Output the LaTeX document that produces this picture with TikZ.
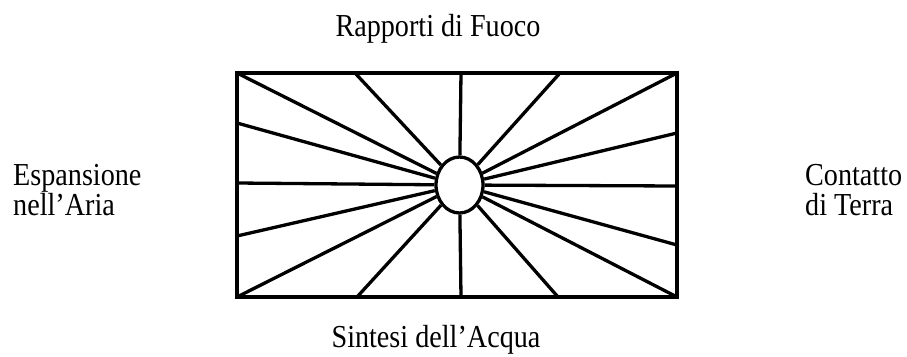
\documentclass[tikz,border=0pt]{standalone}
\usepackage{graphicx}
\usepackage{fontspec}
\setmainfont{Liberation Serif}
\usetikzlibrary{shapes.geometric}
\newcommand{\sqz}[1]{\scalebox{0.88}[1]{#1}}
\begin{document}
\begin{tikzpicture}[x=1pt,y=-1pt,
  ray/.style={line width=3.3pt},
  frame/.style={line width=4pt, line join=miter},
  lbl/.style={inner sep=0pt, font=\fontsize{32}{26}\selectfont}]
\useasboundingbox (0,0) rectangle (907,356);
% sun
\node[ellipse, draw, line width=3.3pt, fill=white, minimum width=47pt, minimum height=56pt, inner sep=0pt] (sun) at (459.5,185) {};
% border points
\coordinate (l1) at (237,73);
\coordinate (l2) at (237,123);
\coordinate (l3) at (237,183);
\coordinate (l4) at (237,236);
\coordinate (l5) at (237,297);
\coordinate (t1) at (355,73);
\coordinate (t2) at (461,73);
\coordinate (t3) at (560,73);
\coordinate (r1) at (677,73);
\coordinate (r2) at (677,133);
\coordinate (r3) at (677,186);
\coordinate (r4) at (677,245);
\coordinate (r5) at (677,297);
\coordinate (b1) at (357,297);
\coordinate (b2) at (461,297);
\coordinate (b3) at (558,297);
\foreach \p in {l1,l2,l3,l4,l5,t1,t2,t3,r1,r2,r3,r4,r5,b1,b2,b3}
  \draw[ray] (\p) -- (sun);
\draw[frame] (l1) rectangle (r5);
% labels
\node[lbl, anchor=base] (top) at (438,36) {\sqz{Rapporti di Fuoco}};
\node[lbl, anchor=base] (bottom) at (436,347) {\sqz{Sintesi dell’Acqua}};
\node[lbl, anchor=base west] (left) at (13,185) {\sqz{\begin{tabular}[t]{@{}l@{}}Espansione\\nell’Aria\end{tabular}}};
\node[lbl, anchor=base west] (right) at (805,185) {\sqz{\begin{tabular}[t]{@{}l@{}}Contatto\\di Terra\end{tabular}}};
\end{tikzpicture}
\end{document}
